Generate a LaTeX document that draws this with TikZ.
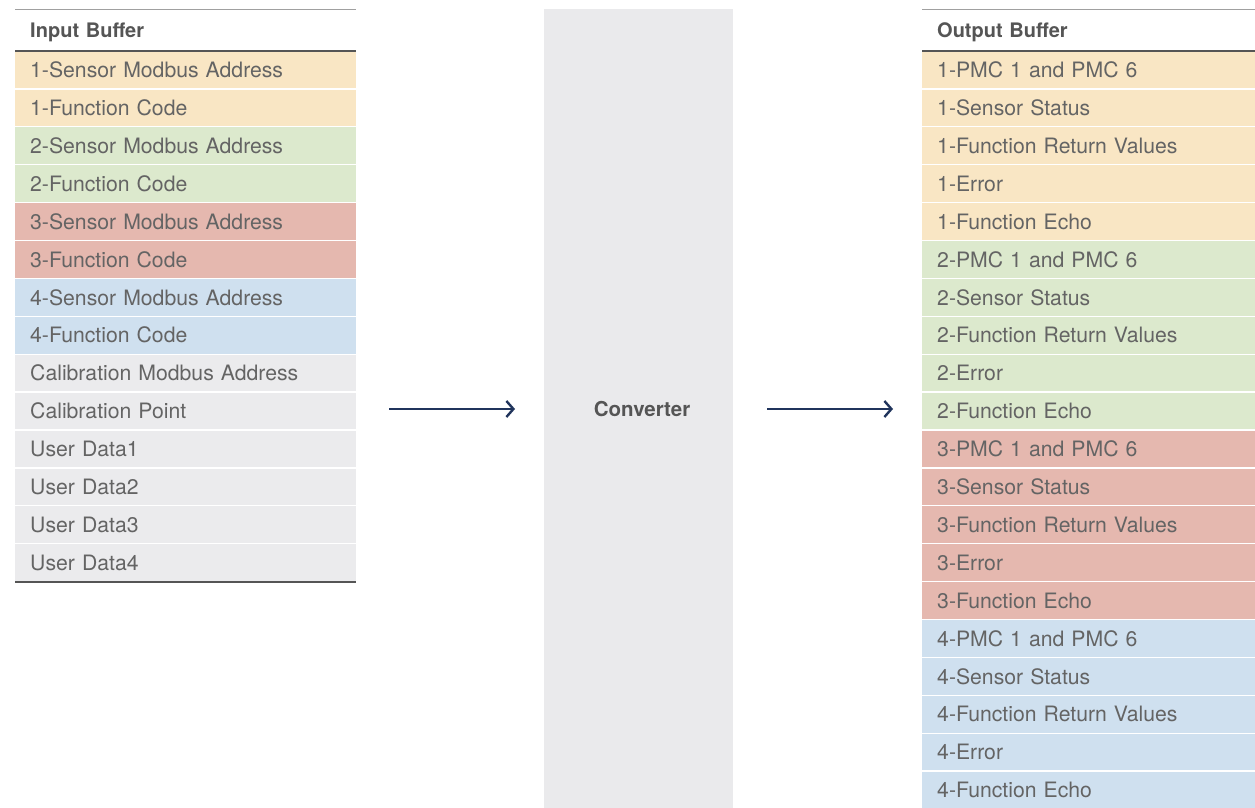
\documentclass[tikz,border=0pt]{standalone}
\usepackage{fontspec}
\setmainfont{TeX Gyre Heros}
\usetikzlibrary{arrows.meta,calc}
\definecolor{cY}{RGB}{249,230,196}
\definecolor{cG}{RGB}{220,233,205}
\definecolor{cR}{RGB}{229,184,175}
\definecolor{cB}{RGB}{207,224,239}
\definecolor{cN}{RGB}{235,235,237}
\definecolor{convfill}{RGB}{234,234,236}
\definecolor{txt}{RGB}{100,100,100}
\definecolor{head}{RGB}{85,85,85}
\definecolor{rulegray}{RGB}{160,160,160}
\definecolor{navy}{RGB}{32,52,92}
\tikzset{
  cell/.style={anchor=north west, inner xsep=15pt, inner ysep=0pt,
    minimum height=37.9pt, align=left, text=txt,
    font=\fontsize{21.2}{24}\selectfont, text height=15pt, text depth=0pt},
  headcell/.style={cell, font=\fontsize{20}{24}\bfseries\selectfont, text=head,
    minimum height=41pt},
  inw/.style={text width=311pt},
  outw/.style={text width=303pt},
  sep/.style={draw=white, line width=1.3pt},
  toprule/.style={draw=rulegray, line width=1.5pt},
  midrule/.style={draw=head, line width=1.3pt},
  flow/.style={draw=navy, line width=2.6pt,
    -{Straight Barb[length=7pt, width=16pt, line width=2.4pt]}},
}
\begin{document}
\begin{tikzpicture}[x=1pt,y=-1pt]
\useasboundingbox (0,0) rectangle (1255,808);

% converter column
\node[fill=convfill, anchor=north west, inner sep=0pt,
      minimum width=189pt, minimum height=799pt] (conv) at (544,9) {};
\node[text=head, font=\fontsize{20.5}{24}\bfseries\selectfont] (convlabel) at (642,409) {Converter};

% input buffer
\node[headcell, inw] (inhead) at (15,9.5) {Input Buffer};
\foreach \t/\c [count=\i] in {
  1-Sensor Modbus Address/cY, 1-Function Code/cY,
  2-Sensor Modbus Address/cG, 2-Function Code/cG,
  3-Sensor Modbus Address/cR, 3-Function Code/cR,
  4-Sensor Modbus Address/cB, 4-Function Code/cB,
  Calibration Modbus Address/cN, Calibration Point/cN,
  User Data1/cN, User Data2/cN, User Data3/cN, User Data4/cN} {
  \node[cell, inw, fill=\c] (in\i) at (15,{51+37.9*(\i-1)}) {\t};
}
\foreach \i in {2,...,14} { \draw[sep] (in\i.north west) -- (in\i.north east); }
\draw[toprule] (inhead.north west) -- (inhead.north east);
\draw[midrule] (in1.north west) -- (in1.north east);
\draw[midrule] (in14.south west) -- (in14.south east);

% output buffer
\node[headcell, outw] (outhead) at (922,9.5) {Output Buffer};
\foreach \t/\c [count=\i] in {
  1-PMC 1 and PMC 6/cY, 1-Sensor Status/cY, 1-Function Return Values/cY, 1-Error/cY, 1-Function Echo/cY,
  2-PMC 1 and PMC 6/cG, 2-Sensor Status/cG, 2-Function Return Values/cG, 2-Error/cG, 2-Function Echo/cG,
  3-PMC 1 and PMC 6/cR, 3-Sensor Status/cR, 3-Function Return Values/cR, 3-Error/cR, 3-Function Echo/cR,
  4-PMC 1 and PMC 6/cB, 4-Sensor Status/cB, 4-Function Return Values/cB, 4-Error/cB, 4-Function Echo/cB} {
  \node[cell, outw, fill=\c] (out\i) at (922,{51+37.9*(\i-1)}) {\t};
}
\foreach \i in {2,...,20} { \draw[sep] (out\i.north west) -- (out\i.north east); }
\draw[toprule] (outhead.north west) -- (outhead.north east);
\draw[midrule] (out1.north west) -- (out1.north east);

% flow arrows
\coordinate (a1s) at (389,409);
\coordinate (a1e) at (515,409);
\coordinate (a2s) at (767,409);
\coordinate (a2e) at (893,409);
\draw[flow] (a1s) -- (a1e);
\draw[flow] (a2s) -- (a2e);
\end{tikzpicture}
\end{document}
